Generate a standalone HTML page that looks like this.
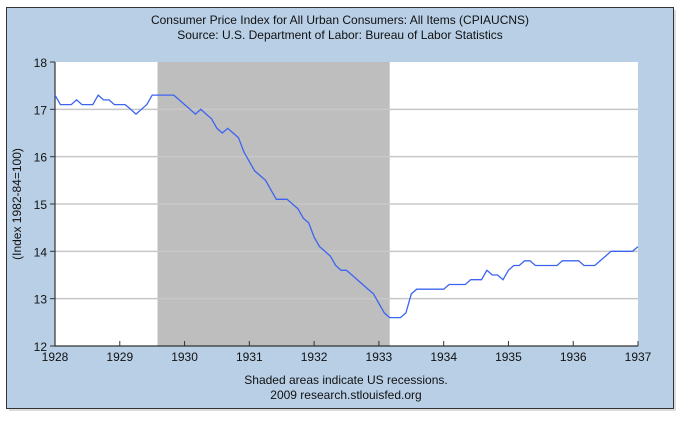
<!DOCTYPE html>
<html><head><meta charset="utf-8"><style>
body{margin:0;background:#fff;width:680px;height:425px;overflow:hidden;font-family:"Liberation Sans",sans-serif}
</style></head><body>
<svg width="680" height="425" xmlns="http://www.w3.org/2000/svg">
<rect x="9" y="10" width="667" height="401" fill="#ddd"/>
<rect x="6.5" y="7.5" width="667" height="401" fill="#b8cfe6" stroke="#333"/>
<text x="340" y="24" text-anchor="middle" font-size="12" fill="#111">Consumer Price Index for All Urban Consumers: All Items (CPIAUCNS)</text>
<text x="340" y="39" text-anchor="middle" font-size="12" fill="#111">Source: U.S. Department of Labor: Bureau of Labor Statistics</text>
<rect x="55" y="62" width="583" height="284" fill="#fff"/>
<g id="rec"></g><g id="grid"></g><g id="axes"></g>
<path id="line" fill="none" stroke="#3c64f0" stroke-width="1.3"/>
<text transform="translate(21,204) rotate(-90)" text-anchor="middle" font-size="12" fill="#111">(Index 1982-84=100)</text>
<text x="346" y="384" text-anchor="middle" font-size="12" fill="#111">Shaded areas indicate US recessions.</text>
<text x="346" y="399" text-anchor="middle" font-size="12" fill="#111">2009 research.stlouisfed.org</text>
</svg>
<script>
const values=[17.3,17.1,17.1,17.1,17.2,17.1,17.1,17.1,17.3,17.2,17.2,17.1,
17.1,17.1,17.0,16.9,17.0,17.1,17.3,17.3,17.3,17.3,17.3,17.2,
17.1,17.0,16.9,17.0,16.9,16.8,16.6,16.5,16.6,16.5,16.4,16.1,
15.9,15.7,15.6,15.5,15.3,15.1,15.1,15.1,15.0,14.9,14.7,14.6,
14.3,14.1,14.0,13.9,13.7,13.6,13.6,13.5,13.4,13.3,13.2,13.1,
12.9,12.7,12.6,12.6,12.6,12.7,13.1,13.2,13.2,13.2,13.2,13.2,
13.2,13.3,13.3,13.3,13.3,13.4,13.4,13.4,13.6,13.5,13.5,13.4,
13.6,13.7,13.7,13.8,13.8,13.7,13.7,13.7,13.7,13.7,13.8,13.8,
13.8,13.8,13.7,13.7,13.7,13.8,13.9,14.0,14.0,14.0,14.0,14.0,
14.1];
const startYear=1928;
const xTicks=[1928,1929,1930,1931,1932,1933,1934,1935,1936,1937];
const yTicks=[12,13,14,15,16,17,18];
const recessions=[[1929.583,1933.167]];
const X0=55,X1=638,Y0=346,Y1=62;
const x=t=>X0+(t-1928)/(1937-1928)*(X1-X0);
const y=v=>Y0-(v-12)/(18-12)*(Y0-Y1);
const NS="http://www.w3.org/2000/svg";
function mk(tag,attrs,parent,txt){const e=document.createElementNS(NS,tag);for(const k in attrs)e.setAttribute(k,attrs[k]);if(txt!==undefined)e.textContent=txt;document.getElementById(parent).appendChild(e);return e;}
recessions.forEach(r=>{const e=mk('rect',{x:x(r[0]),y:Y1,width:x(r[1])-x(r[0]),height:Y0-Y1,fill:'#bebebe'},'rec');

});
yTicks.forEach(v=>{if(v>12&&v<18){const g=mk('line',{x1:X0,x2:X1,y1:y(v),y2:y(v),stroke:'#c8c8c8','stroke-width':1.5},'grid');

}
const t=mk('line',{x1:X0-5,x2:X0,y1:y(v),y2:y(v),stroke:'#333'},'axes');


const l=mk('text',{x:X0-8,y:y(v)+5,'text-anchor':'end','font-size':12,fill:'#111'},'axes',v);

});
xTicks.forEach(v=>{const t=mk('line',{x1:x(v),x2:x(v),y1:Y0,y2:Y0-5,stroke:'#333'},'axes');


const l=mk('text',{x:x(v),y:Y0+15,'text-anchor':'middle','font-size':12,fill:'#111'},'axes',v);

});
const ax=mk('path',{d:`M${X0},${Y1}V${Y0}H${X1}`,fill:'none',stroke:'#333','stroke-width':1.2},'axes');


document.getElementById('line').setAttribute('d',values.map((v,i)=>(i?'L':'M')+x(startYear+i/12).toFixed(1)+','+y(v).toFixed(1)).join(''));
</script>
</body></html>
